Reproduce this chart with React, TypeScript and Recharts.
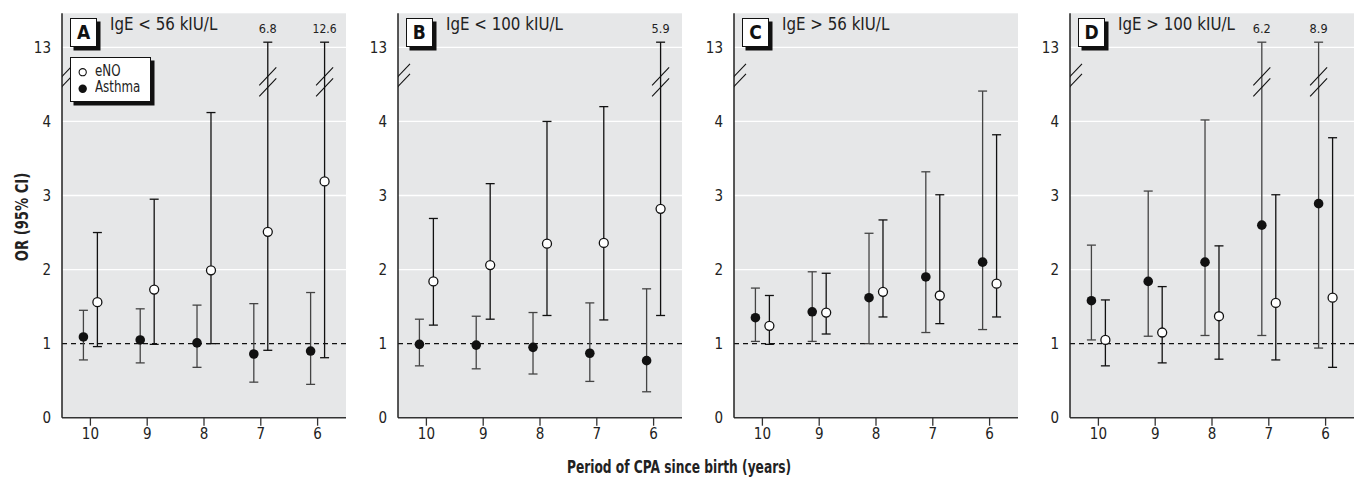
import React from 'react';
import { ScatterChart, Scatter, XAxis, YAxis, ErrorBar, ReferenceLine, CartesianGrid } from 'recharts';

const FONT = "'Liberation Sans Narrow', 'DejaVu Sans Condensed', 'Roboto', sans-serif";

// ---------- data ----------
const periods = [10, 9, 8, 7, 6];
const yTicks = [0, 1, 2, 3, 4, 5];
const yTickLabels = ['0', '1', '2', '3', '4', '13'];
const gridValues = [2, 3, 4, 5];

const panelLetters = ['A', 'B', 'C', 'D'];
const panelTitles = ['IgE < 56 kIU/L', 'IgE < 100 kIU/L', 'IgE > 56 kIU/L', 'IgE > 100 kIU/L'];

// Panel A
const asthmaOR_A = [1.09, 1.05, 1.01, 0.86, 0.9];
const asthmaLo_A = [0.78, 0.74, 0.68, 0.48, 0.45];
const asthmaHi_A = [1.45, 1.47, 1.52, 1.54, 1.69];
const enoOR_A = [1.56, 1.73, 1.99, 2.51, 3.19];
const enoLo_A = [0.96, 0.99, 1.0, 0.91, 0.81];
const enoHi_A = [2.5, 2.95, 4.12, 6.8, 12.6];

// Panel B
const asthmaOR_B = [0.99, 0.98, 0.95, 0.87, 0.77];
const asthmaLo_B = [0.7, 0.66, 0.59, 0.49, 0.35];
const asthmaHi_B = [1.33, 1.37, 1.42, 1.55, 1.74];
const enoOR_B = [1.84, 2.06, 2.35, 2.36, 2.82];
const enoLo_B = [1.25, 1.33, 1.38, 1.32, 1.38];
const enoHi_B = [2.69, 3.16, 4.0, 4.2, 5.9];

// Panel C
const asthmaOR_C = [1.35, 1.43, 1.62, 1.9, 2.1];
const asthmaLo_C = [1.03, 1.03, 1.0, 1.15, 1.19];
const asthmaHi_C = [1.75, 1.97, 2.49, 3.32, 4.41];
const enoOR_C = [1.24, 1.42, 1.7, 1.65, 1.81];
const enoLo_C = [0.99, 1.13, 1.36, 1.27, 1.36];
const enoHi_C = [1.65, 1.95, 2.67, 3.01, 3.82];

// Panel D
const asthmaOR_D = [1.58, 1.84, 2.1, 2.6, 2.89];
const asthmaLo_D = [1.05, 1.1, 1.11, 1.11, 0.94];
const asthmaHi_D = [2.33, 3.06, 4.02, 6.2, 8.9];
const enoOR_D = [1.05, 1.15, 1.37, 1.55, 1.62];
const enoLo_D = [0.7, 0.74, 0.79, 0.78, 0.68];
const enoHi_D = [1.59, 1.77, 2.32, 3.01, 3.78];

// ---------- layout / style constants ----------
const BREAK_AT = 4.5; // CI upper limits above this are drawn on the broken part of the axis
const TOP_DISP = 5.07; // display position of a broken upper limit (13 sits at 5)
const BREAK_Y = 4.54; // display position of the break marks
const X_OFFSET = 0.123; // asthma left / eNO right of the period tick
const X_DOMAIN: [number, number] = [5.5, 10.5];
const Y_DOMAIN: [number, number] = [0, 5.46];

const PLOT_LEFTS = [62, 397.7, 734, 1070];
const PLOT_W = 284;
const YAXIS_W = 40;
const CHART_H = 450;
const MARGIN_TOP = 13.3;
const XAXIS_H = 32.3;
const BG = '#e6e7e8';

type Pt = { x: number; y: number; err?: [number, number]; label?: string };

function buildSeries(or: number[], lo: number[], hi: number[], off: number): Pt[] {
  return periods.map((p, i) => {
    const top = hi[i] > BREAK_AT ? TOP_DISP : hi[i];
    return { x: p + off, y: or[i], err: [or[i] - lo[i], top - or[i]] };
  });
}
function buildBreaks(hi: number[], off: number): Pt[] {
  return periods.flatMap((p, i) => (hi[i] > BREAK_AT ? [{ x: p + off, y: BREAK_Y }] : []));
}
function buildTops(hi: number[], off: number): Pt[] {
  return periods.flatMap((p, i) =>
    hi[i] > BREAK_AT ? [{ x: p + off, y: TOP_DISP, label: hi[i].toFixed(1) }] : []
  );
}

const panelData = [
  [asthmaOR_A, asthmaLo_A, asthmaHi_A, enoOR_A, enoLo_A, enoHi_A],
  [asthmaOR_B, asthmaLo_B, asthmaHi_B, enoOR_B, enoLo_B, enoHi_B],
  [asthmaOR_C, asthmaLo_C, asthmaHi_C, enoOR_C, enoLo_C, enoHi_C],
  [asthmaOR_D, asthmaLo_D, asthmaHi_D, enoOR_D, enoLo_D, enoHi_D],
];

// ---------- shapes ----------
const FilledDot = (p: any) => <circle cx={p.cx} cy={p.cy} r={4.8} fill="#111" />;
const OpenDot = (p: any) => (
  <circle cx={p.cx} cy={p.cy} r={4.5} fill="#fff" stroke="#111" strokeWidth={1.3} />
);
const WhiskerBreak = (p: any) => (
  <g stroke="#111" strokeWidth={1.1}>
    <line x1={p.cx - 8.5} y1={p.cy - 5 + 9} x2={p.cx + 8.5} y2={p.cy - 5 - 9} />
    <line x1={p.cx - 8.5} y1={p.cy + 6 + 9} x2={p.cx + 8.5} y2={p.cy + 6 - 9} />
  </g>
);
const AxisBreak = (p: any) => (
  <g stroke="#111" strokeWidth={1.1}>
    <line x1={p.cx - 12} y1={p.cy - 5 + 12.5} x2={p.cx + 12} y2={p.cy - 5 - 12.5} />
    <line x1={p.cx - 12} y1={p.cy + 5 + 12.5} x2={p.cx + 12} y2={p.cy + 5 - 12.5} />
  </g>
);
const TopLabel = (p: any) => (
  <text
    x={p.cx}
    y={p.cy - 9}
    textAnchor="middle"
    fontSize={13}
    fill="#222"
    fontFamily={FONT}
    textLength={p.payload.label.length * 6}
    lengthAdjust="spacingAndGlyphs"
  >
    {p.payload.label}
  </text>
);

const tickStyle = { fontSize: 15, fill: '#222', fontFamily: FONT };

function Panel({ idx }: { idx: number }) {
  const [aOR, aLo, aHi, eOR, eLo, eHi] = panelData[idx];
  const asthma = buildSeries(aOR, aLo, aHi, X_OFFSET);
  const eno = buildSeries(eOR, eLo, eHi, -X_OFFSET);
  const breaks = [...buildBreaks(aHi, X_OFFSET), ...buildBreaks(eHi, -X_OFFSET)];
  const tops = [...buildTops(aHi, X_OFFSET), ...buildTops(eHi, -X_OFFSET)];
  const axisBreak = [{ x: X_DOMAIN[1], y: BREAK_Y }];
  const left = PLOT_LEFTS[idx] - YAXIS_W;
  return (
    <div style={{ position: 'absolute', left, top: 0 }}>
      <ScatterChart
        width={YAXIS_W + PLOT_W}
        height={CHART_H}
        margin={{ top: MARGIN_TOP, right: 0, bottom: 0, left: 0 }}
      >
        <CartesianGrid fill={BG} horizontal={false} vertical={false} />
        {gridValues.map((g) => (
          <ReferenceLine key={g} y={g} stroke="#ffffff" strokeWidth={1.3} />
        ))}
        <ReferenceLine y={1} stroke="#111" strokeWidth={1.2} strokeDasharray="5 4" />
        <XAxis
          type="number"
          dataKey="x"
          domain={X_DOMAIN}
          allowDataOverflow
          reversed
          ticks={periods}
          height={XAXIS_H}
          tickSize={8}
          tickMargin={3}
          tick={tickStyle}
          axisLine={{ stroke: '#333', strokeWidth: 1.5 }}
          tickLine={{ stroke: '#333', strokeWidth: 1.3 }}
        />
        <YAxis
          type="number"
          dataKey="y"
          domain={Y_DOMAIN}
          allowDataOverflow
          ticks={yTicks}
          width={YAXIS_W}
          tickLine={false}
          tickMargin={5}
          tick={tickStyle}
          tickFormatter={(v: number) => yTickLabels[yTicks.indexOf(v)]}
          axisLine={{ stroke: '#222', strokeWidth: 1.5 }}
        />
        <Scatter data={asthma} shape={FilledDot} isAnimationActive={false}>
          <ErrorBar dataKey="err" direction="y" width={4.5} stroke="#444" strokeWidth={1.3} />
        </Scatter>
        <Scatter data={eno} shape={OpenDot} isAnimationActive={false}>
          <ErrorBar dataKey="err" direction="y" width={4.5} stroke="#111" strokeWidth={1.3} />
        </Scatter>
        <Scatter data={breaks} shape={WhiskerBreak} isAnimationActive={false} />
        <Scatter data={tops} shape={TopLabel} isAnimationActive={false} />
        <Scatter data={axisBreak} shape={AxisBreak} isAnimationActive={false} />
      </ScatterChart>
    </div>
  );
}

function PanelHeader({ idx }: { idx: number }) {
  const x0 = PLOT_LEFTS[idx];
  return (
    <>
      <div
        style={{
          position: 'absolute',
          left: x0 + 8,
          top: 18,
          width: 25,
          height: 27,
          background: '#fff',
          border: '1px solid #111',
          boxShadow: '3.5px 3.5px 0 #111',
          fontFamily: FONT,
          fontWeight: 'bold',
          fontSize: 19,
          lineHeight: '27px',
          textAlign: 'center',
          color: '#111',
        }}
      >
        {panelLetters[idx]}
      </div>
      <div
        style={{
          position: 'absolute',
          left: x0 + 48,
          top: 13,
          fontFamily: FONT,
          fontSize: 18,
          lineHeight: '22px',
          color: '#222',
          whiteSpace: 'nowrap',
          transform: 'scaleX(0.93)',
          transformOrigin: '0 0',
        }}
      >
        {panelTitles[idx]}
      </div>
    </>
  );
}

function LegendBox() {
  return (
    <div
      style={{
        position: 'absolute',
        left: 70,
        top: 57,
        width: 79,
        height: 43,
        background: '#fff',
        border: '1px solid #111',
        boxShadow: '3.5px 3.5px 0 #111',
        fontFamily: FONT,
        fontSize: 15,
        color: '#222',
      }}
    >
      <svg width={20} height={43} style={{ position: 'absolute', left: 4, top: 0 }}>
        <circle cx={7.7} cy={14.2} r={3.6} fill="#fff" stroke="#111" strokeWidth={1.1} />
        <circle cx={7.7} cy={30.8} r={4.2} fill="#111" />
      </svg>
      <div
        style={{
          position: 'absolute',
          left: 24,
          top: 5,
          lineHeight: '17px',
          transform: 'scaleX(0.88)',
          transformOrigin: '0 0',
        }}
      >
        eNO
      </div>
      <div
        style={{
          position: 'absolute',
          left: 24,
          top: 21,
          lineHeight: '17px',
          transform: 'scaleX(0.88)',
          transformOrigin: '0 0',
        }}
      >
        Asthma
      </div>
    </div>
  );
}

export default function App() {
  return (
    <div
      style={{
        position: 'absolute',
        left: 0,
        top: 0,
        width: 1356,
        height: 477,
        background: '#fff',
        overflow: 'hidden',
      }}
    >
      {[0, 1, 2, 3].map((i) => (
        <Panel key={i} idx={i} />
      ))}
      {[0, 1, 2, 3].map((i) => (
        <PanelHeader key={'h' + i} idx={i} />
      ))}
      <LegendBox />
      <div
        style={{
          position: 'absolute',
          left: 22,
          top: 217,
          transform: 'translate(-50%, -50%) rotate(-90deg) scaleX(0.86)',
          fontFamily: FONT,
          fontWeight: 'bold',
          fontSize: 17,
          color: '#222',
          whiteSpace: 'nowrap',
        }}
      >
        OR (95% CI)
      </div>
      <div
        style={{
          position: 'absolute',
          left: 679,
          top: 457,
          transform: 'translateX(-50%) scaleX(0.8)',
          fontFamily: FONT,
          fontWeight: 'bold',
          fontSize: 17,
          color: '#222',
          whiteSpace: 'nowrap',
        }}
      >
        Period of CPA since birth (years)
      </div>
    </div>
  );
}
